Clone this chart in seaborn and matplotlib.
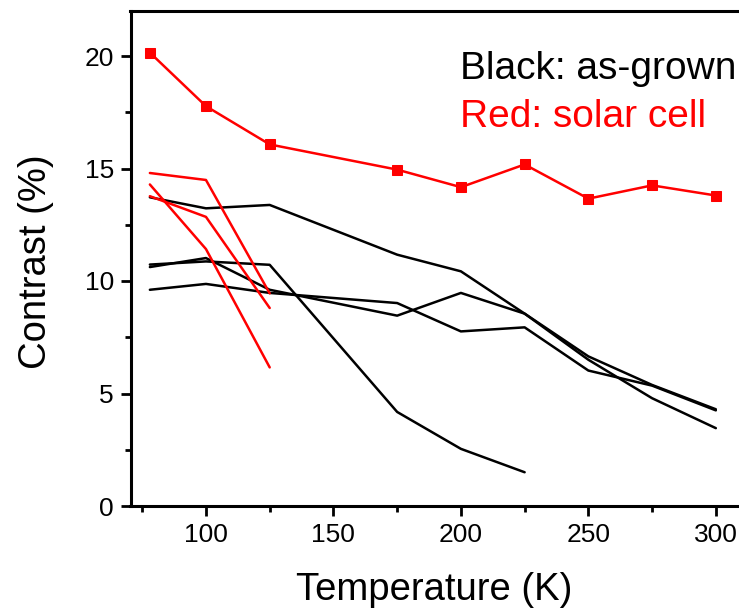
import matplotlib
matplotlib.use("Agg")
import matplotlib.pyplot as plt
import seaborn as sns
import pandas as pd
from matplotlib.ticker import MultipleLocator

sns.set_style("ticks")
plt.rcParams['font.family'] = ['Liberation Sans', 'DejaVu Sans']
plt.rcParams['text.color'] = 'black'
plt.rcParams['axes.labelcolor'] = 'black'
plt.rcParams['xtick.color'] = 'black'
plt.rcParams['ytick.color'] = 'black'

# ---- data ----
temps_full = [78, 100, 125, 175, 200, 225, 250, 275, 300]
red_marked = [20.15, 17.77, 16.07, 14.95, 14.17, 15.18, 13.66, 14.25, 13.80]

temps_short = [78, 100, 125]
red_a = [14.80, 14.49, 9.45]
red_b = [13.77, 12.85, 8.80]
red_c = [14.29, 11.42, 6.16]

black_1 = [13.72, 13.23, 13.38, 11.17, 10.43, 8.55, 6.65, 5.38, 4.30]
black_e = [10.62, 11.02, 9.61, 8.46, 9.47, 8.55, 6.50, 4.79, 3.46]
black_4 = [9.61, 9.87, 9.47, 9.02, 7.76, 7.94, 6.02, 5.35, 4.25]
temps_drop = [78, 100, 125, 175, 200, 225]
black_d = [10.73, 10.87, 10.72, 4.18, 2.54, 1.50]

x_ticks = [100, 150, 200, 250, 300]
y_ticks = [0, 5, 10, 15, 20]

W, H = 739, 610
fig = plt.figure(figsize=(W / 100, H / 100), dpi=100)
ax_l, ax_r, ax_t, ax_b = 130.5, 742.0, 11.0, 506.0
ax = fig.add_axes([ax_l / W, (H - ax_b) / H, (ax_r - ax_l) / W, (ax_b - ax_t) / H])

lw = 1.8
for ys in [black_1, black_e, black_4]:
    sns.lineplot(x=temps_full, y=ys, ax=ax, color='black', lw=lw, estimator=None, sort=False)
sns.lineplot(x=temps_drop, y=black_d, ax=ax, color='black', lw=lw, estimator=None, sort=False)
for ys in [red_a, red_b, red_c]:
    sns.lineplot(x=temps_short, y=ys, ax=ax, color='#ff0000', lw=lw, estimator=None, sort=False)
sns.lineplot(x=temps_full, y=red_marked, ax=ax, color='#ff0000', lw=lw, estimator=None, sort=False,
             marker='s', markersize=6.8, markeredgecolor='#ff0000', markerfacecolor='#ff0000')

ax.set_xlim(70.4, 300 + (ax_r - 716) / 2.533)
ax.set_ylim(0, 22)
ax.set_xticks(x_ticks)
ax.set_yticks(y_ticks)
ax.xaxis.set_minor_locator(MultipleLocator(25))
ax.yaxis.set_minor_locator(MultipleLocator(2.5))
ax.tick_params(which='major', direction='out', length=7, width=2.0, labelsize=19, pad=5,
               color='black', labelcolor='black')
ax.tick_params(which='minor', direction='out', length=4, width=2.0, color='black')

for s in ['left', 'bottom', 'top']:
    ax.spines[s].set_linewidth(2.2)
    ax.spines[s].set_color('black')
ax.spines['right'].set_visible(False)
ax.spines['top'].set_visible(True)

ax.set_xlabel('Temperature (K)', fontsize=27.5, color='black')
ax.set_ylabel('Contrast (%)', fontsize=27.5, color='black')
ax.xaxis.label.set_verticalalignment('baseline')
ax.xaxis.label.set_horizontalalignment('center')
ax.xaxis.set_label_coords(434.5 / W, 1 - 600 / H, transform=fig.transFigure)
ax.yaxis.label.set_rotation_mode('anchor')
ax.yaxis.label.set_verticalalignment('baseline')
ax.yaxis.label.set_horizontalalignment('center')
ax.yaxis.set_label_coords(46 / W, 1 - 262 / H, transform=fig.transFigure)

fig.text(460 / W, 1 - 79 / H, 'Black: as-grown', fontsize=28, color='black', ha='left', va='baseline')
fig.text(460 / W, 1 - 126.7 / H, 'Red: solar cell', fontsize=28, color='#ff0000', ha='left', va='baseline')

fig.savefig('out.png', dpi=100)
